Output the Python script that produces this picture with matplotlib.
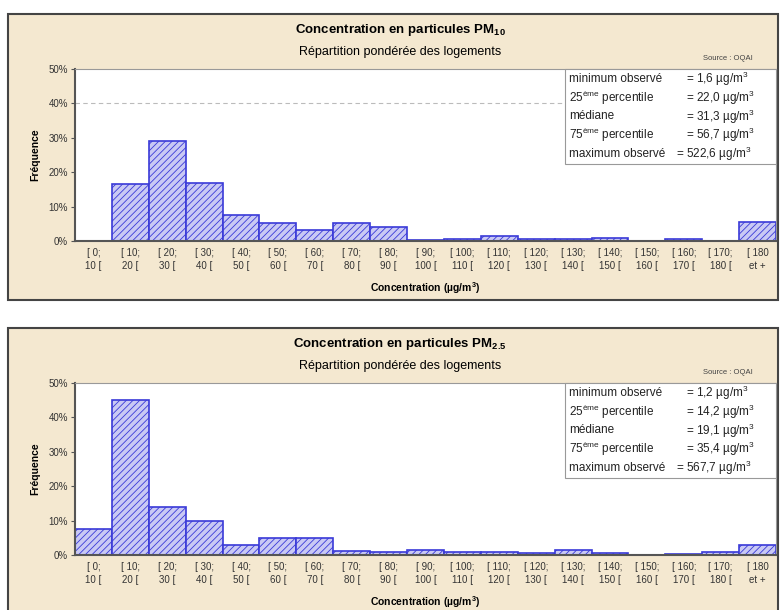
import numpy as np
import matplotlib.pyplot as plt
from matplotlib.patches import Rectangle

W, H = 781, 610

bins = ["[ 0;\n10 [", "[ 10;\n20 [", "[ 20;\n30 [", "[ 30;\n40 [", "[ 40;\n50 [",
        "[ 50;\n60 [", "[ 60;\n70 [", "[ 70;\n80 [", "[ 80;\n90 [", "[ 90;\n100 [",
        "[ 100;\n110 [", "[ 110;\n120 [", "[ 120;\n130 [", "[ 130;\n140 [", "[ 140;\n150 [",
        "[ 150;\n160 [", "[ 160;\n170 [", "[ 170;\n180 [", "[ 180\net +"]

pm10 = [0, 16.5, 29, 17, 7.5, 5.3, 3.3, 5.3, 4.0, 0.2, 0.5, 1.5, 0.7, 0.7, 1.0, 0, 0.5, 0, 5.5]
pm25 = [7.5, 45, 14, 10, 2.8, 4.8, 5.0, 1.2, 0.8, 1.5, 0.9, 0.9, 0.6, 1.5, 0.5, 0, 0.2, 0.8, 2.8]

stats10 = ["1,6", "22,0", "31,3", "56,7", "522,6"]
stats25 = ["1,2", "14,2", "19,1", "35,4", "567,7"]
stat_names = ["minimum observé", "25$^{\\mathrm{ème}}$ percentile", "médiane",
              "75$^{\\mathrm{ème}}$ percentile", "maximum observé"]

bg = "#f4e8d0"
bar_fc = "#c9c9f4"
bar_ec = "#3a3ad8"

plt.rcParams['font.family'] = ['Liberation Sans', 'DejaVu Sans']
plt.rcParams['mathtext.fontset'] = 'custom'
plt.rcParams['mathtext.rm'] = 'Liberation Sans'
plt.rcParams['mathtext.bf'] = 'Liberation Sans:bold'
plt.rcParams['hatch.color'] = "#5555dd"
plt.rcParams['hatch.linewidth'] = 0.6

fig = plt.figure(figsize=(W / 100, H / 100), dpi=100)
fig.patch.set_facecolor("white")


def px(x, y):
    # pixel coords (top-left origin) -> figure fraction
    return x / W, 1 - y / H


def panel(top, bottom, vals, sub, stats, grid40):
    # background card
    fig.patches.append(Rectangle((8 / W, 1 - bottom / H), 770 / W, (bottom - top) / H,
                                 transform=fig.transFigure, facecolor=bg,
                                 edgecolor="#444444", lw=1.5, zorder=-1))
    ytop = top + 55
    ybot = top + 227
    ax = fig.add_axes([75 / W, 1 - ybot / H, 701 / W, (ybot - ytop) / H])
    ax.set_zorder(1)
    ax.set_facecolor("white")
    x = np.arange(len(vals))
    ax.bar(x, vals, width=1.0, color=bar_fc, edgecolor=bar_ec, lw=1.2, hatch="/////", zorder=2)
    ax.set_xlim(-0.5, len(vals) - 0.5)
    ax.set_ylim(0, 50)
    ax.set_yticks([0, 10, 20, 30, 40, 50])
    ax.set_yticklabels(["0%", "10%", "20%", "30%", "40%", "50%"], fontsize=7, color="#333333")
    ax.set_xticks(x)
    ax.set_xticklabels(bins, fontsize=7, color="#333333", linespacing=1.35)
    ax.tick_params(axis="x", length=0, pad=5)
    ax.tick_params(axis="y", length=3, color="#555555", pad=2)
    for s in ["top", "right"]:
        ax.spines[s].set_color("#999999")
        ax.spines[s].set_linewidth(0.8)
    ax.spines["left"].set_color("#555555")
    ax.spines["bottom"].set_color("#555555")
    ax.spines["left"].set_linewidth(1.5)
    ax.spines["bottom"].set_linewidth(1.5)
    if grid40:
        ax.plot([-0.5, 12.8], [40, 40], ls=(0, (4, 3)), color="#bbbbbb", lw=0.8, zorder=1)
    ax.set_ylabel("Fréquence", fontsize=7.5, fontweight="bold", labelpad=6)
    ax.set_xlabel("Concentration (µg/m$^\\mathbf{3}$)", fontsize=7.5, fontweight="bold", labelpad=7)

    fx, fy = px(400, top + 16)
    fig.text(fx, fy, "Concentration en particules " + sub, fontsize=9.5, fontweight="bold",
             ha="center", va="center")
    fx, fy = px(400, top + 38)
    fig.text(fx, fy, "Répartition pondérée des logements", fontsize=9, ha="center", va="center")
    fx, fy = px(728, top + 45)
    fig.text(fx, fy, "Source : OQAI", fontsize=5.5, color="#444444", ha="center", va="center")

    # stats box
    bx0, bx1 = 565, 776
    by0, by1 = ytop, ytop + 95
    fig.patches.append(Rectangle((bx0 / W, 1 - by1 / H), (bx1 - bx0) / W, (by1 - by0) / H,
                                 transform=fig.transFigure, facecolor="white",
                                 edgecolor="#999999", lw=0.8, zorder=5))
    for i, (name, v) in enumerate(zip(stat_names, stats)):
        yy = by0 + 10 + i * 18.7
        fx, fy = px(569, yy)
        fig.text(fx, fy, name, fontsize=8.5, va="center", color="#222222", zorder=6)
        fx, fy = px(686 if i != 4 else 676, yy)
        fig.text(fx, fy, "= " + v + " µg/m$^3$", fontsize=8.5, va="center",
                 color="#222222", zorder=6)


panel(14, 300, pm10, "PM$_{\\mathbf{10}}$", stats10, True)
panel(328, 640, pm25, "PM$_{\\mathbf{2.5}}$", stats25, False)

fig.savefig("out.png", dpi=100, facecolor=fig.get_facecolor())
